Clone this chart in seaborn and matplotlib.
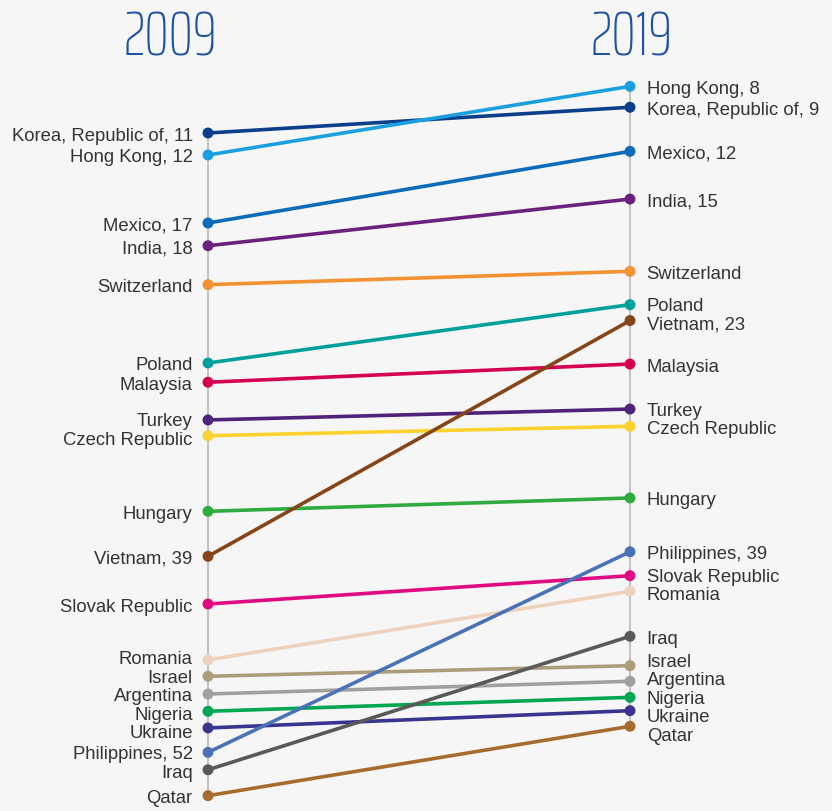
import matplotlib
matplotlib.use('Agg')
import matplotlib.pyplot as plt
import seaborn as sns
import pandas as pd
import numpy as np

# ---------------- data ----------------
countries = ["Korea, Republic of", "Hong Kong", "Mexico", "India", "Switzerland",
             "Poland", "Malaysia", "Turkey", "Czech Republic", "Hungary",
             "Vietnam", "Slovak Republic", "Romania", "Israel", "Argentina",
             "Nigeria", "Ukraine", "Philippines", "Iraq", "Qatar"]
# position on the ranking scale
pos_2009 = [11.06, 12.51, 17.00, 18.50, 21.07, 26.24, 27.51, 30.00, 31.04, 36.03,
            39.00, 42.15, 45.84, 46.92, 48.09, 49.23, 50.33, 51.94, 53.09, 54.80]
pos_2019 = [9.36, 7.98, 12.27, 15.42, 20.19, 22.39, 26.31, 29.28, 30.42, 35.15,
            23.44, 40.28, 41.31, 46.22, 47.25, 48.31, 49.19, 38.70, 44.28, 50.22]
# ranks printed next to the names (None = not printed)
rank_2009 = [11, 12, 17, 18, None, None, None, None, None, None,
             39, None, None, None, None, None, None, 52, None, None]
rank_2019 = [9, 8, 12, 15, None, None, None, None, None, None,
             23, None, None, None, None, None, None, 39, None, None]
colors = ["#0b3f8c", "#1aa0e0", "#0a6cbb", "#6c217f", "#f39233",
          "#00a19d", "#d5004f", "#4e2379", "#fdd12e", "#2fab40",
          "#864519", "#df0a82", "#eed2bd", "#ab9d79", "#a0a0a0",
          "#00a651", "#3a3490", "#4a72b7", "#595959", "#a86b2e"]
years = ["2009", "2019"]

# ---------------- style ----------------
BG = "#f6f6f6"
sns.set_theme(style="white")
plt.rcParams['font.family'] = ['Liberation Sans', 'DejaVu Sans']

W, H, DPI = 832, 812, 100
fig = plt.figure(figsize=(W / DPI, H / DPI), dpi=DPI, facecolor=BG)
ax = fig.add_axes([0, 0, 1, 1], facecolor=BG)

x_left_px, x_right_px = 208, 630
span = W / (x_right_px - x_left_px)
xmin = -x_left_px / W * span
ax.set_xlim(xmin, xmin + span)
px_per_unit, px_offset = 15.15, -33.55
ax.set_ylim((H - px_offset) / px_per_unit, (0 - px_offset) / px_per_unit)

rows = []
for i, c in enumerate(countries):
    rows.append(dict(country=c, x=0, value=pos_2009[i]))
    rows.append(dict(country=c, x=1, value=pos_2019[i]))
df = pd.DataFrame(rows)
palette = dict(zip(countries, colors))

ax.vlines(0, min(pos_2009), max(pos_2009), color="#bdbdbd", lw=1.3, zorder=0)
ax.vlines(1, min(pos_2019), max(pos_2019), color="#bdbdbd", lw=1.3, zorder=0)

sns.lineplot(data=df, x="x", y="value", hue="country", palette=palette,
             units="country", estimator=None, sort=False, linewidth=2.6,
             legend=False, ax=ax, zorder=2)
sns.scatterplot(data=df, x="x", y="value", hue="country", palette=palette,
                s=62, edgecolor="none", linewidth=0, legend=False, ax=ax, zorder=3)


def spread(vals, gap, iters=400):
    vals = np.array(vals, dtype=float)
    order = np.argsort(vals)
    v = vals[order].copy()
    for _ in range(iters):
        moved = False
        for k in range(len(v) - 1):
            d = v[k + 1] - v[k]
            if d < gap:
                push = (gap - d) / 2
                v[k] -= push
                v[k + 1] += push
                moved = True
        if not moved:
            break
    out = np.empty_like(v)
    out[order] = v
    return out


gap = 18.5 / px_per_unit
lab_2009 = spread(pos_2009, gap)
lab_2019 = spread(pos_2019, gap)

TXT = "#333333"
FS = 13.3
for i, c in enumerate(countries):
    t = c if rank_2009[i] is None else f"{c}, {rank_2009[i]}"
    ax.annotate(t, xy=(0, lab_2009[i]), xytext=(-11, 0), textcoords="offset points",
                ha="right", va="center_baseline", fontsize=FS, color=TXT)
    t = c if rank_2019[i] is None else f"{c}, {rank_2019[i]}"
    ax.annotate(t, xy=(1, lab_2019[i]), xytext=(12, 0), textcoords="offset points",
                ha="left", va="center_baseline", fontsize=FS, color=TXT)

title_kw = dict(fontsize=44, color="#1d52a0",
                family=["Saira ExtraCondensed", "DejaVu Sans"],
                fontweight=100, ha="center", va="center")
fig.text(170 / W, 1 - 39 / H, years[0], **title_kw)
fig.text(632 / W, 1 - 39 / H, years[1], **title_kw)

ax.set_axis_off()
fig.savefig("out.png", dpi=DPI, facecolor=BG)
